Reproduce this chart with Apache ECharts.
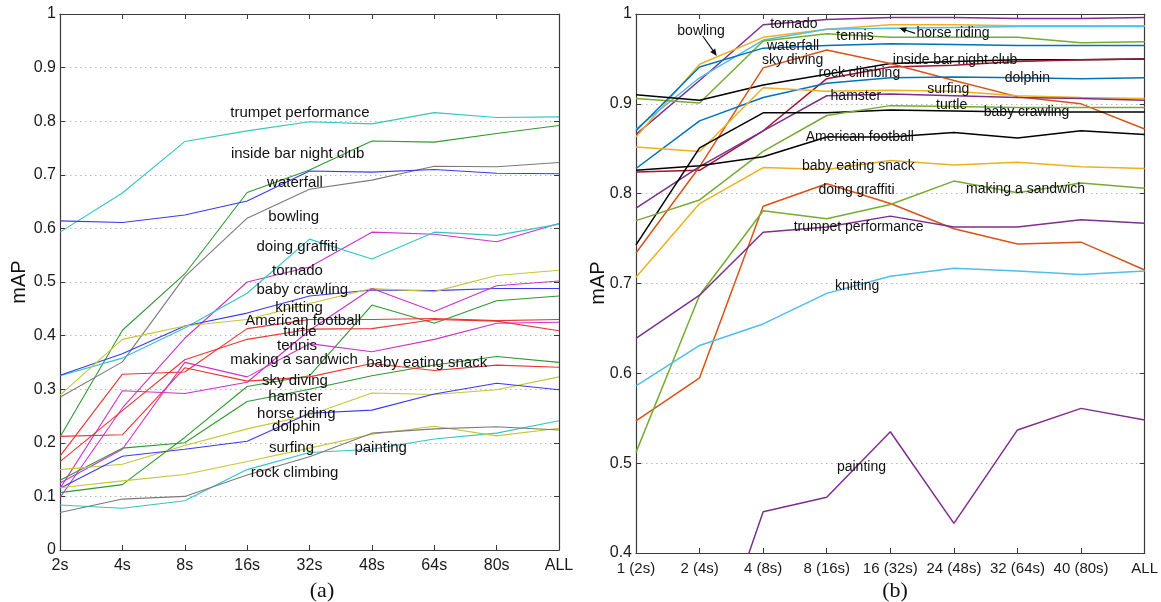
<!DOCTYPE html>
<html><head><meta charset="utf-8">
<script src="https://cdn.jsdelivr.net/npm/echarts@6/dist/echarts.min.js"></script>
<style>html,body{margin:0;padding:0;background:#fff}#c{width:1161px;height:602px}</style>
</head><body><div id="c"></div>
<script>
// ---------- categories / tick labels ----------
const catsA = ['2s','4s','8s','16s','32s','48s','64s','80s','ALL'];
const catsB = ['1 (2s)','2 (4s)','4 (8s)','8 (16s)','16 (32s)','24 (48s)','32 (64s)','40 (80s)','ALL'];
const yTicksA = ['0','0.1','0.2','0.3','0.4','0.5','0.6','0.7','0.8','0.9','1'];
const yTicksB = ['0.4','0.5','0.6','0.7','0.8','0.9','1'];

// ---------- panel (a) series values ----------
const aCyan1    = [0.593,0.666,0.762,0.782,0.799,0.795,0.816,0.807,0.808];
const aGreen1   = [0.211,0.410,0.515,0.667,0.709,0.763,0.761,0.777,0.792];
const aGray1    = [0.285,0.351,0.510,0.619,0.673,0.690,0.716,0.715,0.723];
const aBlue1    = [0.614,0.611,0.625,0.651,0.707,0.705,0.710,0.703,0.702];
const aMagenta1 = [0.098,0.265,0.395,0.500,0.528,0.593,0.589,0.575,0.609];
const aCyan2    = [0.325,0.358,0.414,0.479,0.580,0.543,0.593,0.587,0.608];
const aBlue2    = [0.326,0.366,0.418,0.442,0.474,0.485,0.484,0.488,0.488];
const aYellow1  = [0.289,0.393,0.418,0.430,0.460,0.488,0.482,0.512,0.522];
const aMagenta2 = [0.115,0.297,0.292,0.313,0.410,0.488,0.445,0.493,0.502];
const aGreen2   = [0.107,0.122,0.210,0.305,0.325,0.457,0.423,0.465,0.474];
const aGreen3   = [0.130,0.190,0.200,0.277,0.300,0.325,0.345,0.361,0.350];
const aRed1     = [0.175,0.328,0.332,0.413,0.430,0.430,0.432,0.428,0.430];
const aRed2     = [0.165,0.260,0.355,0.393,0.412,0.413,0.430,0.427,0.409];
const aRed3     = [0.212,0.215,0.340,0.315,0.323,0.348,0.335,0.345,0.341];
const aMagenta3 = [0.125,0.188,0.350,0.323,0.385,0.370,0.393,0.423,0.425];
const aYellow2  = [0.150,0.160,0.195,0.226,0.252,0.293,0.290,0.299,0.323];
const aBlue3    = [0.115,0.175,0.188,0.203,0.255,0.261,0.291,0.311,0.299];
const aCyan3    = [0.084,0.078,0.092,0.150,0.182,0.188,0.207,0.218,0.241];
const aYellow3  = [0.116,0.129,0.141,0.165,0.190,0.216,0.231,0.213,0.227];
const aGray2    = [0.070,0.095,0.100,0.140,0.174,0.218,0.226,0.230,0.224];

// ---------- panel (b) series values ----------
const bTornado   = [0.866,0.926,0.988,0.994,0.996,0.996,0.995,0.995,0.996];
const bBowling   = [0.863,0.944,0.974,0.983,0.988,0.988,0.987,0.987,0.987];
const bHorse     = [0.872,0.929,0.971,0.983,0.984,0.985,0.986,0.986,0.986];
const bTennis    = [0.906,0.901,0.970,0.978,0.974,0.974,0.974,0.968,0.969];
const bWaterfall = [0.870,0.941,0.962,0.965,0.967,0.966,0.965,0.965,0.965];
const bInsideBar = [0.910,0.904,0.921,0.933,0.945,0.947,0.949,0.949,0.950];
const bRock      = [0.824,0.826,0.870,0.928,0.941,0.943,0.947,0.949,0.950];
const bSky       = [0.734,0.830,0.940,0.960,0.945,0.926,0.908,0.900,0.872];
const bDolphin   = [0.828,0.881,0.907,0.923,0.929,0.930,0.929,0.928,0.929];
const bSurfing   = [0.852,0.847,0.918,0.914,0.915,0.914,0.909,0.907,0.906];
const bHamster   = [0.784,0.830,0.870,0.909,0.911,0.909,0.907,0.906,0.904];
const bCrawling  = [0.743,0.851,0.890,0.890,0.893,0.892,0.891,0.891,0.891];
const bTurtle    = [0.770,0.793,0.847,0.887,0.898,0.897,0.896,0.896,0.896];
const bFootball  = [0.826,0.831,0.841,0.863,0.863,0.868,0.862,0.870,0.866];
const bSnack     = [0.707,0.789,0.829,0.827,0.837,0.832,0.835,0.830,0.828];
const bGraffiti  = [0.547,0.595,0.786,0.811,0.789,0.761,0.744,0.746,0.715];
const bSandwich  = [0.512,0.687,0.781,0.772,0.788,0.814,0.801,0.812,0.806];
const bTrumpet   = [0.639,0.687,0.757,0.763,0.775,0.763,0.763,0.771,0.767];
const bKnitting  = [0.586,0.631,0.655,0.689,0.708,0.717,0.714,0.710,0.714];
const bPainting  = [0.220,0.240,0.446,0.462,0.535,0.433,0.537,0.561,0.548];

// ---------- text annotations (anchor in data units: category index, value) ----------
const labelsA = [
  ['trumpet performance',2.73,0.815],['inside bar night club',2.74,0.740],['waterfall',3.32,0.685],
  ['bowling',3.34,0.622],['doing graffiti',3.15,0.566],['tornado',3.40,0.521],['baby crawling',3.15,0.485],
  ['knitting',3.45,0.451],['American football',2.97,0.427],['turtle',3.58,0.407],['tennis',3.48,0.381],
  ['making a sandwich',2.73,0.354],['baby eating snack',4.91,0.349],['sky diving',3.24,0.315],
  ['hamster',3.34,0.285],['horse riding',3.16,0.254],['dolphin',3.40,0.229],['surfing',3.35,0.190],
  ['painting',4.72,0.190],['rock climbing',3.06,0.144]
];
const labelsB = [
  ['bowling',0.65,0.981],['tornado',2.11,0.989],['tennis',3.15,0.975],['waterfall',2.06,0.964],
  ['sky diving',1.98,0.949],['rock climbing',2.87,0.934],['hamster',3.06,0.909],
  ['American football',2.67,0.863],['baby eating snack',2.61,0.831],['doing graffiti',2.87,0.804],
  ['horse riding',4.41,0.979],['inside bar night club',4.04,0.949],['dolphin',5.80,0.929],
  ['surfing',4.58,0.916],['turtle',4.72,0.898],['baby crawling',5.47,0.891],
  ['making a sandwich',5.19,0.805],['trumpet performance',2.48,0.763],['knitting',3.13,0.697],
  ['painting',3.16,0.496]
];
const arrowsB = [
  [[1.05,0.9755],[1.27,0.9533]],
  [[4.39,0.9785],[4.14,0.9844]]
];

// ---------- colours ----------
const CA = {cyan:'#35c4c4', blue:'#3a3af0', green:'#2f9a2f', gray:'#7a7a7a', magenta:'#cc33cc', red:'#ee3333', yellow:'#c6c633'};
const CB = {blue:'#0072BD', orange:'#D95319', yellow:'#EDB120', purple:'#7E2F8E', green:'#77AC30', cyan:'#4DBEEE', darkred:'#A2142F', black:'#000000'};

const seriesA = [
  [aCyan1,CA.cyan],[aGreen1,CA.green],[aGray1,CA.gray],[aBlue1,CA.blue],[aMagenta1,CA.magenta],
  [aCyan2,CA.cyan],[aBlue2,CA.blue],[aYellow1,CA.yellow],[aMagenta2,CA.magenta],[aGreen2,CA.green],
  [aGreen3,CA.green],[aRed1,CA.red],[aRed2,CA.red],[aRed3,CA.red],[aMagenta3,CA.magenta],
  [aYellow2,CA.yellow],[aBlue3,CA.blue],[aCyan3,CA.cyan],[aYellow3,CA.yellow],[aGray2,CA.gray]
];
const seriesB = [
  [bTornado,CB.purple],[bBowling,CB.yellow],[bHorse,CB.cyan],[bTennis,CB.green],[bWaterfall,CB.blue],
  [bInsideBar,CB.black],[bRock,CB.darkred],[bSky,CB.orange],[bDolphin,CB.blue],[bSurfing,CB.yellow],
  [bHamster,CB.purple],[bCrawling,CB.black],[bTurtle,CB.green],[bFootball,CB.black],[bSnack,CB.yellow],
  [bGraffiti,CB.orange],[bSandwich,CB.green],[bTrumpet,CB.purple],[bKnitting,CB.cyan],[bPainting,CB.purple]
];

const FONT = '"Liberation Sans", Arial, Helvetica, sans-serif';
const AXC = '#3a3a3a';

function mkSeries(arr, color, idx, width) {
  return {
    type:'line', xAxisIndex: idx, yAxisIndex: idx, symbol:'none', silent:true, clip:true,
    data: arr.map((v,i)=>[i,v]), lineStyle:{color:color, width:width}, z:3
  };
}
function xAx(grid, cats, pos, fs, showLab) {
  return {
    type:'value', gridIndex:grid, min:0, max:8, interval:1, position:pos,
    axisLine:{show:true, onZero:false, lineStyle:{color:AXC, width:1.2}},
    axisTick:{show:true, inside:true, length:5, lineStyle:{color:AXC}},
    axisLabel:{show:showLab, margin:8, fontSize:fs, color:'#1a1a1a', fontFamily:FONT,
      showMinLabel:true, showMaxLabel:true, formatter:(v)=>cats[Math.round(v)]},
    splitLine:{show:false}
  };
}
function yAx(grid, min, ticks, pos, showLab) {
  return {
    type:'value', gridIndex:grid, min:min, max:1, interval:0.1, position:pos,
    axisLine:{show:true, onZero:false, lineStyle:{color:AXC, width:1.2}},
    axisTick:{show:true, inside:true, length:5, lineStyle:{color:AXC}},
    axisLabel:{show:showLab, margin:4, fontSize:16, color:'#1a1a1a', fontFamily:FONT,
      showMinLabel:true, showMaxLabel:true,
      formatter:(v)=>ticks[Math.round((v-min)*10)]},
    splitLine:{show:showLab, lineStyle:{color:'#b8b8b8', type:[1.5,3.5], width:1}}
  };
}

const chart = echarts.init(document.getElementById('c'), null, {renderer:'canvas'});
chart.setOption({
  animation:false,
  backgroundColor:'#ffffff',
  grid:[
    {left:60, top:14, width:499, height:536},
    {left:636, top:14, width:509, height:539}
  ],
  xAxis:[ xAx(0,catsA,'bottom',16,true), xAx(0,catsA,'top',16,false),
          xAx(1,catsB,'bottom',15,true), xAx(1,catsB,'top',15,false) ],
  yAxis:[ yAx(0,0,yTicksA,'left',true), yAx(0,0,yTicksA,'right',false),
          yAx(1,0.4,yTicksB,'left',true), yAx(1,0.4,yTicksB,'right',false) ],
  series: seriesA.map(s=>mkSeries(s[0],s[1],0,1.1)).concat(seriesB.map(s=>mkSeries(s[0],s[1],2,1.5)))
});

// ---------- annotations ----------
const g = [];
function addLabels(list, grid, fs) {
  list.forEach(l=>{
    const p = chart.convertToPixel({gridIndex:grid}, [l[1], l[2]]);
    g.push({type:'text', x:p[0], y:p[1], z:10, silent:true,
      style:{text:l[0], font: fs+'px '+FONT, fill:'#111', textAlign:'left', textVerticalAlign:'middle', align:'left', verticalAlign:'middle'}});
  });
}
addLabels(labelsA, 0, 15);
addLabels(labelsB, 1, 14);
arrowsB.forEach(a=>{
  const p1 = chart.convertToPixel({gridIndex:1}, a[0]);
  const p2 = chart.convertToPixel({gridIndex:1}, a[1]);
  const dx = p2[0]-p1[0], dy = p2[1]-p1[1], L = Math.hypot(dx,dy);
  const ux = dx/L, uy = dy/L, nx = -uy, ny = ux;
  g.push({type:'line', z:10, silent:true, shape:{x1:p1[0], y1:p1[1], x2:p2[0]-ux*4, y2:p2[1]-uy*4}, style:{stroke:'#111', lineWidth:1.2}});
  g.push({type:'polygon', z:10, silent:true, shape:{points:[[p2[0],p2[1]],[p2[0]-ux*7+nx*3,p2[1]-uy*7+ny*3],[p2[0]-ux*7-nx*3,p2[1]-uy*7-ny*3]]}, style:{fill:'#111'}});
});
g.push({type:'text', x:19, y:282, rotation:Math.PI/2, silent:true,
  style:{text:'mAP', font:'20px '+FONT, fill:'#111', textAlign:'center', textVerticalAlign:'middle', align:'center', verticalAlign:'middle'}});
g.push({type:'text', x:598, y:283, rotation:Math.PI/2, silent:true,
  style:{text:'mAP', font:'20px '+FONT, fill:'#111', textAlign:'center', textVerticalAlign:'middle', align:'center', verticalAlign:'middle'}});
g.push({type:'text', x:322, y:591, silent:true,
  style:{text:'(a)', font:'22px "Liberation Serif", "Times New Roman", serif', fill:'#111', textAlign:'center', textVerticalAlign:'middle', align:'center', verticalAlign:'middle'}});
g.push({type:'text', x:895, y:591, silent:true,
  style:{text:'(b)', font:'22px "Liberation Serif", "Times New Roman", serif', fill:'#111', textAlign:'center', textVerticalAlign:'middle', align:'center', verticalAlign:'middle'}});
chart.setOption({graphic:g});
</script></body></html>
